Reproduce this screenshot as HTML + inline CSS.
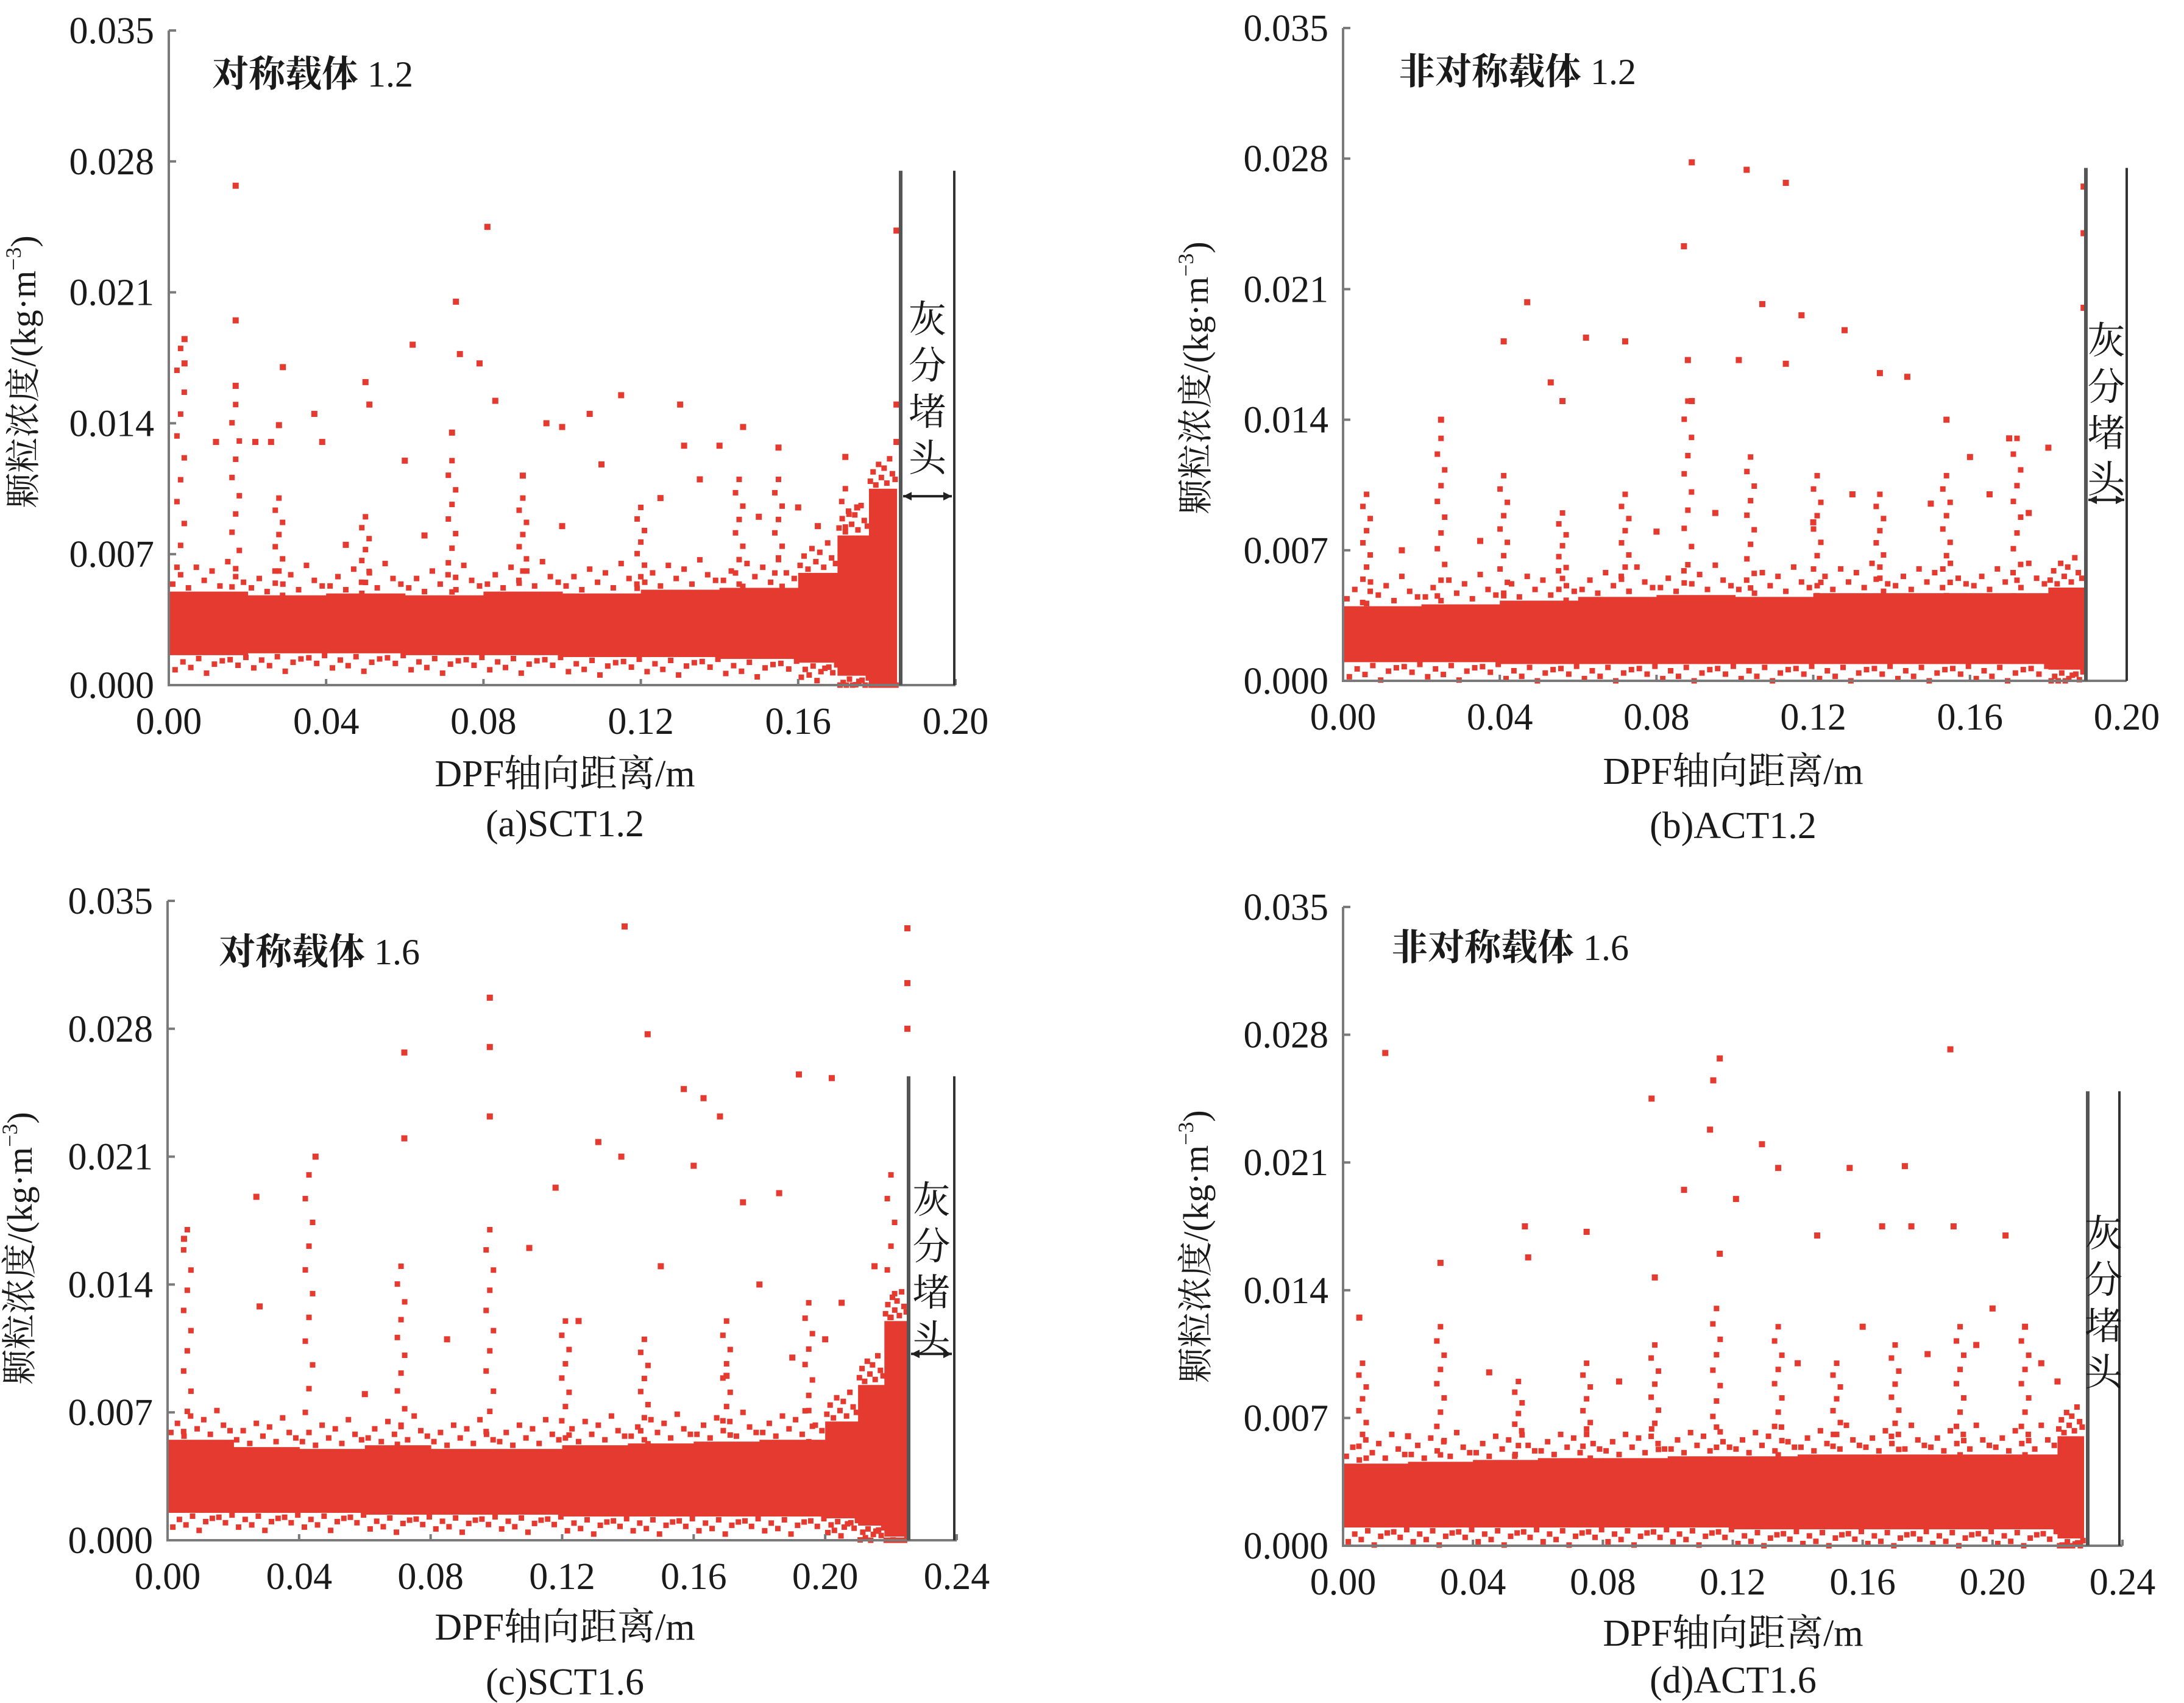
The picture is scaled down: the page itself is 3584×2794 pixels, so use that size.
<!DOCTYPE html>
<html><head><meta charset="utf-8">
<style>
html,body{margin:0;padding:0;background:#fff;}
svg{display:block;}
text{font-family:"Liberation Serif","Noto Serif CJK SC","Noto Sans CJK SC",serif;fill:#1a1a1a;}
</style></head>
<body>
<svg id="chart" width="3584" height="2794" viewBox="0 0 3584 2794" xmlns="http://www.w3.org/2000/svg"></svg>
<script>
// ---------- data ----------
const yTicks = [0, 0.007, 0.014, 0.021, 0.028, 0.035];
const yTickLabels = ["0.000","0.007","0.014","0.021","0.028","0.035"];
const xTicksA = [0,0.04,0.08,0.12,0.16,0.20];
const xTickLabelsA = ["0.00","0.04","0.08","0.12","0.16","0.20"];
const xTicksC = [0,0.04,0.08,0.12,0.16,0.20,0.24];
const xTickLabelsC = ["0.00","0.04","0.08","0.12","0.16","0.20","0.24"];

// dense band: bin start x, bin end x, low, high
const bandA_x0 = [0,0.02,0.04,0.06,0.08,0.10,0.12,0.14,0.16,0.170,0.178];
const bandA_x1 = [0.02,0.04,0.06,0.08,0.10,0.12,0.14,0.16,0.170,0.178,0.185];
const bandA_lo = [0.0016,0.0017,0.0017,0.0016,0.0016,0.0015,0.0015,0.0014,0.0012,0.0005,0.0];
const bandA_hi = [0.0050,0.0048,0.0049,0.0048,0.0050,0.0049,0.0051,0.0052,0.0060,0.0080,0.0105];
const bandB_x0 = [0,0.02,0.04,0.06,0.08,0.10,0.12,0.14,0.16,0.18];
const bandB_x1 = [0.02,0.04,0.06,0.08,0.10,0.12,0.14,0.16,0.18,0.189];
const bandB_lo = [0.0010,0.0010,0.0009,0.0009,0.0009,0.0009,0.0009,0.0009,0.0009,0.0006];
const bandB_hi = [0.0040,0.0041,0.0043,0.0045,0.0046,0.0045,0.0047,0.0047,0.0047,0.0050];
const bandC_x0 = [0,0.02,0.04,0.06,0.08,0.10,0.12,0.14,0.16,0.18,0.200,0.210,0.218];
const bandC_x1 = [0.02,0.04,0.06,0.08,0.10,0.12,0.14,0.16,0.18,0.200,0.210,0.218,0.225];
const bandC_lo = [0.0015,0.0015,0.0015,0.0014,0.0014,0.0014,0.0013,0.0013,0.0013,0.0013,0.0012,0.0008,0.0002];
const bandC_hi = [0.0055,0.0051,0.0050,0.0052,0.0050,0.0050,0.0052,0.0053,0.0054,0.0055,0.0065,0.0085,0.0120];
const bandD_x0 = [0,0.02,0.04,0.06,0.08,0.10,0.12,0.14,0.16,0.18,0.20,0.22];
const bandD_x1 = [0.02,0.04,0.06,0.08,0.10,0.12,0.14,0.16,0.18,0.20,0.22,0.228];
const bandD_lo = [0.0010,0.0010,0.0010,0.0010,0.0010,0.0010,0.0009,0.0009,0.0009,0.0009,0.0009,0.0004];
const bandD_hi = [0.0045,0.0046,0.0047,0.0048,0.0048,0.0049,0.0049,0.0050,0.0050,0.0050,0.0050,0.0060];

// vertical spikes of points: x, top value
const spikeA_x = [0.003,0.017,0.028,0.05,0.072,0.09,0.12,0.145,0.155,0.172];
const spikeA_top = [0.018,0.015,0.010,0.009,0.012,0.010,0.0095,0.011,0.011,0.0105];
const spikeB_x = [0.006,0.025,0.041,0.056,0.072,0.088,0.104,0.121,0.137,0.154,0.172];
const spikeB_top = [0.010,0.013,0.011,0.009,0.010,0.015,0.012,0.011,0.010,0.011,0.013];
const spikeC_x = [0.006,0.043,0.071,0.098,0.121,0.145,0.170,0.195,0.220];
const spikeC_top = [0.017,0.020,0.015,0.017,0.012,0.011,0.012,0.013,0.020];
const spikeD_x = [0.006,0.03,0.054,0.075,0.096,0.115,0.134,0.152,0.170,0.190,0.210];
const spikeD_top = [0.010,0.012,0.009,0.010,0.011,0.013,0.012,0.010,0.011,0.012,0.012];

// outlier points
const ptsA_x = [0.017,0.081,0.073,0.017,0.062,0.004,0.004,0.074,0.079,0.029,0.017,0.05,0.083,0.115,0.130,0.107,0.037,0.051,0.096,0.100,0.146,0.028,0.026,0.012,0.022,0.039,0.072,0.131,0.140,0.155,0.172,0.185,0.185,0.185,0.060,0.090,0.110,0.125,0.135,0.160,0.045,0.065,0.100,0.150,0.165,0.175];
const ptsA_y = [0.0267,0.0245,0.0205,0.0195,0.0182,0.0185,0.0172,0.0177,0.0172,0.0170,0.0160,0.0162,0.0152,0.0155,0.0150,0.0145,0.0145,0.0150,0.0140,0.0138,0.0138,0.0139,0.0130,0.0130,0.0130,0.0130,0.0135,0.0128,0.0128,0.0127,0.0122,0.0243,0.0150,0.0130,0.0120,0.0112,0.0118,0.0100,0.0110,0.0095,0.0075,0.0080,0.0085,0.0090,0.0085,0.0095];
const ptsB_x = [0.089,0.103,0.113,0.087,0.047,0.107,0.117,0.128,0.072,0.062,0.041,0.088,0.101,0.113,0.137,0.144,0.053,0.056,0.025,0.089,0.154,0.189,0.189,0.189,0.160,0.170,0.180,0.165,0.175,0.150,0.130,0.120,0.095,0.080,0.035,0.015];
const ptsB_y = [0.0278,0.0274,0.0267,0.0233,0.0203,0.0202,0.0196,0.0188,0.0182,0.0184,0.0182,0.0172,0.0172,0.0170,0.0165,0.0163,0.0160,0.0150,0.0140,0.0150,0.0140,0.0265,0.0240,0.0200,0.0120,0.0130,0.0125,0.0100,0.0090,0.0095,0.0100,0.0085,0.0090,0.0080,0.0075,0.0070];
const ptsC_x = [0.139,0.225,0.225,0.098,0.225,0.146,0.098,0.072,0.192,0.202,0.157,0.163,0.168,0.098,0.072,0.045,0.138,0.131,0.118,0.027,0.005,0.028,0.160,0.175,0.186,0.110,0.150,0.180,0.205,0.215,0.125,0.085,0.060,0.190,0.200,0.170];
const ptsC_y = [0.0336,0.0335,0.0305,0.0297,0.0280,0.0277,0.0270,0.0267,0.0255,0.0253,0.0247,0.0242,0.0232,0.0232,0.0220,0.0210,0.0210,0.0218,0.0193,0.0188,0.0165,0.0128,0.0205,0.0185,0.0190,0.0160,0.0150,0.0140,0.0130,0.0150,0.0120,0.0110,0.0080,0.0100,0.0110,0.0090];
const ptsD_x = [0.013,0.187,0.116,0.114,0.095,0.113,0.129,0.134,0.156,0.173,0.105,0.121,0.056,0.075,0.188,0.204,0.030,0.057,0.096,0.116,0.146,0.166,0.175,0.005,0.200,0.210,0.195,0.180,0.160,0.140,0.085,0.045,0.020,0.215,0.220];
const ptsD_y = [0.0270,0.0272,0.0267,0.0255,0.0245,0.0228,0.0220,0.0207,0.0207,0.0208,0.0195,0.0190,0.0175,0.0172,0.0175,0.0170,0.0155,0.0158,0.0147,0.0160,0.0170,0.0175,0.0175,0.0125,0.0130,0.0120,0.0110,0.0105,0.0120,0.0100,0.0090,0.0095,0.0060,0.0100,0.0090];

// ---------- drawing ----------
const NS = "http://www.w3.org/2000/svg";
const svg = document.getElementById("chart");
const RED = "#e53a2f";
function mk(tag, attrs, parent){
  const e = document.createElementNS(NS, tag);
  for (const k in attrs) e.setAttribute(k, attrs[k]);
  (parent||svg).appendChild(e);
  return e;
}
const fuzzOff = [0.0004,0.0009,0.0002,0.0013,0.0006,0.0011,0.0003,0.0016,0.0008,0.0005];
function panel(p){
  const g = mk("g", {});
  
  
  const sx = v => p.x0 + (v / p.xmax) * (p.x1 - p.x0);
  const sy = v => p.yb - (v / 0.035) * (p.yb - p.yt);
  // band
  for (let i=0;i<p.bx0.length;i++){
    const r = mk("rect",{x:sx(p.bx0[i]),y:sy(p.bhi[i]),width:sx(p.bx1[i])-sx(p.bx0[i])+1,height:sy(p.blo[i])-sy(p.bhi[i]),fill:RED},g);
    
    
    // ragged edge points above and below each bin
    const w = p.bx1[i]-p.bx0[i];
    for (let k=0;k<10;k++){
      const xv = p.bx0[i] + w*(k+0.5)/10;
      const up = mk("rect",{x:sx(xv)-4.5,y:sy(p.bhi[i]+fuzzOff[k])-4.5,width:9,height:9,fill:RED},g);
      
      
      const dn = mk("rect",{x:sx(xv+w*0.03)-4.5,y:sy(Math.max(0,p.blo[i]-fuzzOff[(k+3)%10]*0.6))-4.5,width:9,height:9,fill:RED},g);
      
      
    }
  }
  // spikes
  for (let i=0;i<p.sx.length;i++){
    const steps = 10;
    for (let k=0;k<=steps;k++){
      const v = p.stop[i]*0.35 + (p.stop[i]*0.65)*k/steps;
      const d = mk("rect",{x:sx(p.sx[i])-4.5+((k%3)-1)*6,y:sy(v)-4.5,width:9,height:9,fill:RED},g);
      
      
    }
  }
  // outliers
  for (let i=0;i<p.px.length;i++){
    const d = mk("rect",{x:sx(p.px[i])-5,y:sy(p.py[i])-5,width:10,height:10,fill:RED},g);
    
    
  }
  // axes
  const ax = mk("path",{d:`M${p.x0} ${p.yt} L${p.x0} ${p.yb} L${p.x1} ${p.yb}`,stroke:"#7a7a7a","stroke-width":4,fill:"none"},g);
  
  
  yTicks.forEach((v,i)=>{
    mk("line",{x1:p.x0,x2:p.x0+12,y1:sy(v),y2:sy(v),stroke:"#7a7a7a","stroke-width":4},g);
    const t = mk("text",{x:p.x0-24,y:sy(v)+21,"text-anchor":"end","font-size":62},g);
    t.textContent = yTickLabels[i];
    
    
  });
  p.xt.forEach((v,i)=>{
    mk("line",{x1:sx(v),x2:sx(v),y1:p.yb,y2:p.yb-10,stroke:"#7a7a7a","stroke-width":4},g);
    const t = mk("text",{x:sx(v),y:p.yb+80,"text-anchor":"middle","font-size":62},g);
    t.textContent = p.xtl[i];
    
    
  });
  // ash plug boundary
  const top = sy(p.plugTop);
  mk("line",{x1:p.plugL,x2:p.plugL,y1:top,y2:p.yb,stroke:"#555","stroke-width":6},g);
  mk("line",{x1:p.plugR,x2:p.plugR,y1:top,y2:p.yb,stroke:"#333","stroke-width":4},g);
  if (p.arrowY){
    const ay = sy(p.arrowY);
    mk("line",{x1:p.plugL+4,x2:p.plugR-4,y1:ay,y2:ay,stroke:"#222","stroke-width":4},g);
    mk("path",{d:`M${p.plugL+4} ${ay} l14 -7 v14z M${p.plugR-4} ${ay} l-14 -7 v14z`,fill:"#222"},g);
  }
  const chars = ["灰","分","堵","头"];
  chars.forEach((c,i)=>{
    const t = mk("text",{x:(p.plugL+p.plugR)/2,y:p.labY+i*76,"text-anchor":"middle","font-size":62},g);
    t.textContent = c;
    
    
  });
  // texts
  const a = mk("text",{x:p.annX,y:p.annY,"font-size":60},g);
  const a1 = mk("tspan",{"font-weight":"bold"},a); a1.textContent = p.ann;
  const a2 = mk("tspan",{},a); a2.textContent = " " + p.annNum;
  
  
  const xt = mk("text",{x:p.titleX,y:p.titleY,"text-anchor":"middle","font-size":62},g);
  xt.textContent = "DPF轴向距离/m";
  
  
  const st = mk("text",{x:p.titleX,y:p.subY,"text-anchor":"middle","font-size":62},g);
  st.textContent = p.sub;
  
  
  const yt = mk("text",{x:0,y:0,"text-anchor":"middle","font-size":58,transform:`translate(${p.ytX},${p.ytY}) rotate(-90)`},g);
  yt.textContent = "颗粒浓度/(kg·m";
  const sup = mk("tspan",{"font-size":36,dy:-24},yt); sup.textContent = "−3";
  const cl = mk("tspan",{dy:24},yt); cl.textContent = ")";
  
  
}
panel({name:"panel-a-sct12",x0:277,x1:1568,yt:50,yb:1124,xmax:0.20,xt:xTicksA,xtl:xTickLabelsA,
  bx0:bandA_x0,bx1:bandA_x1,blo:bandA_lo,bhi:bandA_hi,sx:spikeA_x,stop:spikeA_top,px:ptsA_x,py:ptsA_y,
  plugL:1478,plugR:1566,plugTop:0.0275,arrowY:0.0101,labY:545,
  ann:"对称载体",annNum:"1.2",annX:348,annY:142,titleX:927,titleY:1290,subY:1372,sub:"(a)SCT1.2",ytX:58,ytY:610});
panel({name:"panel-b-act12",x0:2204,x1:3490,yt:46,yb:1117,xmax:0.20,xt:xTicksA,xtl:xTickLabelsA,
  bx0:bandB_x0,bx1:bandB_x1,blo:bandB_lo,bhi:bandB_hi,sx:spikeB_x,stop:spikeB_top,px:ptsB_x,py:ptsB_y,
  plugL:3423,plugR:3490,plugTop:0.0275,arrowY:0.0097,labY:580,
  ann:"非对称载体",annNum:"1.2",annX:2295,annY:138,titleX:2844,titleY:1286,subY:1375,sub:"(b)ACT1.2",ytX:1982,ytY:620});
panel({name:"panel-c-sct16",x0:275,x1:1570,yt:1478,yb:2527,xmax:0.24,xt:xTicksC,xtl:xTickLabelsC,
  bx0:bandC_x0,bx1:bandC_x1,blo:bandC_lo,bhi:bandC_hi,sx:spikeC_x,stop:spikeC_top,px:ptsC_x,py:ptsC_y,
  plugL:1491,plugR:1566,plugTop:0.0254,arrowY:0.0102,labY:1990,
  ann:"对称载体",annNum:"1.6",annX:359,annY:1582,titleX:927,titleY:2690,subY:2780,sub:"(c)SCT1.6",ytX:52,ytY:2048});
panel({name:"panel-d-act16",x0:2204,x1:3483,yt:1488,yb:2536,xmax:0.24,xt:xTicksC,xtl:xTickLabelsC,
  bx0:bandD_x0,bx1:bandD_x1,blo:bandD_lo,bhi:bandD_hi,sx:spikeD_x,stop:spikeD_top,px:ptsD_x,py:ptsD_y,
  plugL:3426,plugR:3478,plugTop:0.0249,arrowY:null,labY:2045,
  ann:"非对称载体",annNum:"1.6",annX:2283,annY:1575,titleX:2844,titleY:2700,subY:2777,sub:"(d)ACT1.6",ytX:1982,ytY:2045});
</script>
</body></html>
